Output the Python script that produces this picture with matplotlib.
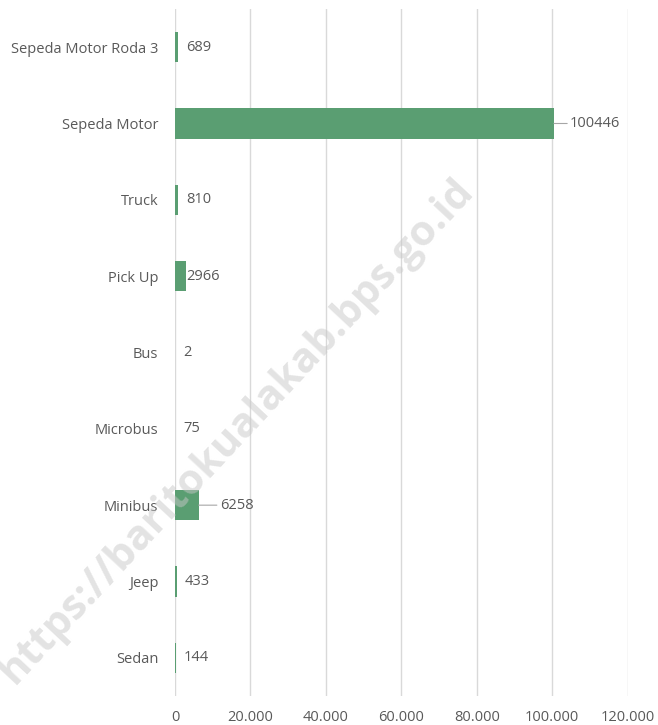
import matplotlib.pyplot as plt
from matplotlib.ticker import FuncFormatter

categories = ["Sedan", "Jeep", "Minibus", "Microbus", "Bus",
              "Pick Up", "Truck", "Sepeda Motor", "Sepeda Motor Roda 3"]
jumlah = [144, 433, 6258, 75, 2, 2966, 810, 100446, 689]
x_ticks = [0, 20000, 40000, 60000, 80000, 100000, 120000]

# label offsets in pixels (Excel labels were dragged by hand), leader line flag
label_dx = [8, 8, 21, 8, 8, 0, 8, 16, 8]
leader = [False, False, True, False, False, False, False, True, False]

plt.rcParams['font.family'] = ['Open Sans', 'DejaVu Sans']
grey = '#595959'

fig = plt.figure(figsize=(6.58, 7.25), dpi=100)
ax = fig.add_axes([0.266, 0.04, 0.688, 0.9476])

y = range(len(categories))
ax.barh(y, jumlah, height=0.4, color='#5A9E72', linewidth=0, zorder=3)

for i, v in enumerate(jumlah):
    props = dict(arrowstyle='-', color='#A6A6A6', lw=0.8, shrinkA=0, shrinkB=0) if leader[i] else None
    ax.annotate(str(v), xy=(v, i), xytext=(label_dx[i], 0), textcoords='offset pixels',
                ha='left', va='center', fontsize=10.5, color=grey,
                arrowprops=props, zorder=4)

ax.set_xlim(0, 120000)
ax.set_ylim(-0.5, len(categories) - 0.5)
ax.set_xticks(x_ticks)
ax.xaxis.set_major_formatter(FuncFormatter(lambda v, p: f"{int(v):,}".replace(",", ".")))
ax.set_yticks(list(y))
ax.set_yticklabels(categories)
ax.tick_params(axis='both', length=0, labelsize=10.5, labelcolor=grey)
ax.tick_params(axis='y', pad=12)
ax.tick_params(axis='x', pad=10)
ax.grid(axis='x', color='#D9D9D9', linewidth=1, zorder=0)
ax.set_axisbelow(True)
for s in ax.spines.values():
    s.set_visible(False)

# watermark (cut off at the lower left edge, as in the source image)
fig.text(0.36, 0.405, "https://baritokualakab.bps.go.id", fontsize=30, fontweight='bold',
         color='#C8C8C8', alpha=0.5, rotation=47, ha='center', va='center', zorder=10)

fig.savefig('out.png', dpi=100)
